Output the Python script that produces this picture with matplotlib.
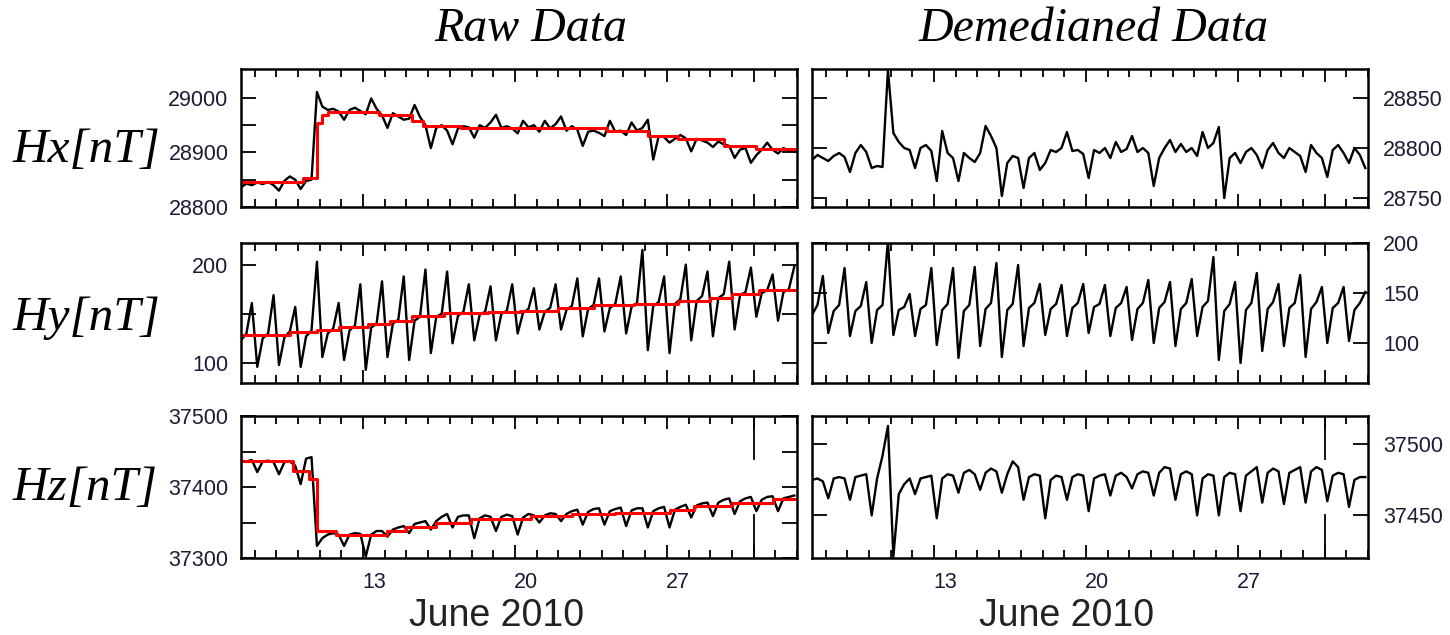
import pandas as pd
import matplotlib.pyplot as plt
import matplotlib.dates as mdates
import matplotlib.ticker as mticker
from matplotlib.transforms import ScaledTranslation

plt.rcParams['font.family'] = ['Liberation Sans', 'DejaVu Sans']

# 6-hourly samples, 7 June 09:00 .. 2 July 21:00
times = pd.date_range('2010-06-07 09:00', periods=103, freq='6h')

# ---- raw data (left column) ----
hx_raw = [28836, 28843, 28840,
          28845, 28842, 28846, 28840,  28830, 28848, 28856, 28850,
          28833, 28848, 28850, 29011,  28984, 28978, 28980, 28975,
          28960, 28978, 28982, 28976,  28970, 28999, 28980, 28968,
          28945, 28972, 28966, 28960,  28962, 28987, 28965, 28950,
          28908, 28945, 28950, 28940,  28915, 28944, 28948, 28946,
          28927, 28950, 28945, 28955,  28969, 28945, 28948, 28944,
          28935, 28958, 28946, 28950,  28938, 28958, 28944, 28952,
          28966, 28940, 28948, 28942,  28912, 28938, 28940, 28936,
          28930, 28958, 28938, 28940,  28932, 28955, 28940, 28945,
          28960, 28887, 28930, 28928,  28918, 28925, 28932, 28926,
          28902, 28925, 28922, 28918,  28910, 28920, 28915, 28912,
          28890, 28905, 28908, 28881,  28895, 28905, 28918, 28905,
          28898, 28908, 28903, 28902]

hy_raw = [123, 130, 161,
          96, 125, 130, 169,   98, 126, 132, 157,
          96, 127, 133, 203,   106, 130, 135, 161,
          103, 133, 138, 180,  93, 136, 140, 183,
          106, 140, 144, 188,  103, 143, 147, 195,
          110, 147, 150, 193,  120, 148, 152, 180,
          123, 149, 152, 178,  123, 150, 153, 180,
          130, 151, 155, 176,  134, 152, 156, 180,
          134, 154, 158, 186,  127, 155, 159, 186,
          132, 156, 160, 188,  130, 157, 161, 215,
          113, 158, 162, 188,  110, 160, 165, 200,
          123, 163, 168, 193,  127, 166, 170, 203,
          134, 169, 172, 197,  147, 171, 174, 190,
          143, 172, 175, 198]

hz_raw = [37437, 37436, 37438,
          37421, 37436, 37437, 37435,  37418, 37435, 37436, 37430,
          37404, 37440, 37442, 37317,  37328, 37333, 37335, 37333,
          37317, 37333, 37335, 37334,  37302, 37333, 37338, 37338,
          37330, 37340, 37343, 37345,  37335, 37348, 37350, 37352,
          37340, 37352, 37358, 37362,  37343, 37358, 37360, 37360,
          37328, 37356, 37360, 37358,  37338, 37358, 37361, 37359,
          37333, 37357, 37362, 37360,  37350, 37360, 37363, 37362,
          37352, 37362, 37366, 37368,  37347, 37365, 37369, 37370,
          37347, 37366, 37369, 37371,  37345, 37367, 37370, 37370,
          37343, 37366, 37370, 37372,  37343, 37368, 37372, 37375,
          37357, 37374, 37377, 37378,  37359, 37378, 37382, 37384,
          37362, 37380, 37384, 37386,  37366, 37382, 37386, 37387,
          37366, 37384, 37386, 37388]

# ---- running medians (red), as step changes ----
hx_med_t = ['2010-06-07 09:00', '2010-06-10 06:00', '2010-06-10 21:00', '2010-06-11 03:00',
            '2010-06-11 09:00', '2010-06-13 18:00', '2010-06-15 06:00', '2010-06-15 18:00',
            '2010-06-17 12:00', '2010-06-24 06:00', '2010-06-26 03:00', '2010-06-27 12:00',
            '2010-06-29 15:00', '2010-07-01 03:00', '2010-07-03 00:00']
hx_med_v = [28845, 28854, 28954, 28968, 28975, 28969, 28957, 28948,
            28945, 28939, 28931, 28924, 28912, 28907, 28907]

hy_med_t = ['2010-06-07 09:00', '2010-06-09 15:00', '2010-06-10 21:00', '2010-06-11 21:00',
            '2010-06-13 06:00', '2010-06-14 06:00', '2010-06-15 06:00', '2010-06-16 18:00',
            '2010-06-18 18:00', '2010-06-20 06:00', '2010-06-22 00:00', '2010-06-23 15:00',
            '2010-06-25 12:00', '2010-06-27 12:00', '2010-06-29 00:00', '2010-06-30 00:00',
            '2010-07-01 06:00', '2010-07-03 00:00']
hy_med_v = [128.5, 131, 134, 137, 140, 143, 148, 151, 151.5, 153, 156, 159,
            160, 162.5, 166, 170, 174, 174]

hz_med_t = ['2010-06-07 09:00', '2010-06-09 18:00', '2010-06-10 12:00', '2010-06-10 21:00',
            '2010-06-11 18:00', '2010-06-14 03:00', '2010-06-15 00:00', '2010-06-16 09:00',
            '2010-06-17 23:00', '2010-06-20 18:00', '2010-06-22 15:00', '2010-06-24 15:00',
            '2010-06-27 03:00', '2010-06-28 06:00', '2010-06-30 00:00', '2010-07-01 21:00',
            '2010-07-03 00:00']
hz_med_v = [37436, 37423, 37411, 37338, 37333, 37338, 37343, 37350, 37355, 37359,
            37362, 37364, 37368, 37373, 37378, 37383, 37383]

# ---- demedianed data (right column) ----
hx_dem = [28788, 28793, 28790,
          28787, 28792, 28795, 28791,  28776, 28795, 28803, 28796,
          28780, 28782, 28781, 28878,  28815, 28806, 28800, 28798,
          28780, 28800, 28803, 28797,  28767, 28817, 28795, 28790,
          28767, 28795, 28790, 28786,  28795, 28822, 28812, 28800,
          28752, 28785, 28792, 28790,  28760, 28790, 28795, 28778,
          28785, 28798, 28796, 28800,  28816, 28797, 28798, 28794,
          28770, 28798, 28795, 28800,  28790, 28806, 28796, 28799,
          28812, 28796, 28800, 28795,  28762, 28790, 28800, 28808,
          28796, 28804, 28796, 28800,  28792, 28816, 28800, 28805,
          28821, 28750, 28790, 28795,  28785, 28796, 28800, 28793,
          28780, 28798, 28805, 28795,  28790, 28800, 28796, 28792,
          28776, 28803, 28795, 28790,  28771, 28798, 28803, 28795,
          28785, 28800, 28793, 28780]

hy_dem = [128, 138, 167,
          110, 132, 138, 175,  107, 132, 137, 161,
          100, 133, 138, 202,  108, 133, 136, 149,
          107, 134, 138, 175,  98, 133, 139, 175,
          85, 132, 138, 176,   97, 134, 140, 180,
          86, 133, 139, 178,   97, 135, 140, 159,
          108, 134, 139, 158,  107, 135, 140, 159,
          110, 136, 139, 158,  107, 135, 140, 156,
          103, 134, 140, 163,  100, 135, 141, 161,
          97, 134, 140, 164,   107, 136, 142, 186,
          83, 132, 139, 161,   80, 133, 140, 170,
          92, 134, 141, 159,   97, 135, 140, 168,
          86, 134, 141, 156,   100, 135, 140, 156,
          102, 133, 140, 151]

hz_dem = [37475, 37476, 37474,
          37462, 37476, 37477, 37476,  37461, 37477, 37478, 37479,
          37450, 37476, 37492, 37513,  37421, 37465, 37472, 37476,
          37465, 37476, 37477, 37478,  37448, 37476, 37479, 37478,
          37466, 37480, 37482, 37479,  37468, 37480, 37483, 37481,
          37466, 37479, 37488, 37484,  37461, 37477, 37479, 37478,
          37448, 37475, 37478, 37477,  37461, 37477, 37479, 37478,
          37453, 37476, 37478, 37479,  37464, 37478, 37480, 37477,
          37469, 37479, 37481, 37480,  37464, 37480, 37484, 37483,
          37461, 37479, 37481, 37479,  37450, 37476, 37479, 37478,
          37450, 37477, 37480, 37479,  37453, 37478, 37481, 37484,
          37459, 37480, 37483, 37481,  37458, 37480, 37482, 37484,
          37459, 37481, 37484, 37482,  37460, 37478, 37480, 37479,
          37456, 37475, 37477, 37477]

row_names = ['Hx[nT]', 'Hy[nT]', 'Hz[nT]']

raw_series = [hx_raw, hy_raw, hz_raw]
med_series = [(hx_med_t, hx_med_v), (hy_med_t, hy_med_v), (hz_med_t, hz_med_v)]
dem_series = [hx_dem, hy_dem, hz_dem]

raw_ylim = [(28800, 29053), (79.6, 222), (37300, 37500)]
raw_yticks = [[28800, 28850, 28900, 28950, 29000],
              [100, 150, 200],
              [37300, 37350, 37400, 37450, 37500]]
raw_ylabels = [['28800', '', '28900', '', '29000'],
               ['100', '', '200'],
               ['37300', '', '37400', '', '37500']]

dem_ylim = [(28741, 28879), (60, 200), (37420, 37520)]
dem_yticks = [[28750, 28800, 28850], [100, 150, 200], [37450, 37500]]

day_ticks = pd.to_datetime(['2010-06-13', '2010-06-20', '2010-06-27', '2010-07-01'])
day_labels = ['13', '20', '27', '']
x_start = pd.Timestamp('2010-06-07 09:00')
x_end = pd.Timestamp('2010-07-03 00:00')
month_edge = pd.Timestamp('2010-07-01')

W, H = 1450, 635
fig = plt.figure(figsize=(W / 100, H / 100), dpi=100)

rows = [(69, 207), (243, 383), (416, 558)]
cols = [(241, 797), (812, 1368)]
tick_col = '#1c1c34'


def make_axes(col, row):
    x0, x1 = cols[col]
    y0, y1 = rows[row]
    return fig.add_axes([x0 / W, 1 - y1 / H, (x1 - x0) / W, (y1 - y0) / H])


def style(ax, last_row, side):
    for s in ax.spines.values():
        s.set_linewidth(1.8)
    ax.set_xlim(x_start, x_end)
    ax.xaxis.set_major_locator(mticker.FixedLocator(mdates.date2num(day_ticks)))
    ax.xaxis.set_major_formatter(mticker.FixedFormatter(day_labels))
    ax.xaxis.set_minor_locator(mdates.DayLocator())
    ax.tick_params(axis='x', which='major', direction='in', length=9.4, width=1.3,
                   top=True, bottom=True, labelsize=15.5, labelcolor=tick_col, pad=10,
                   labelbottom=last_row)
    ax.tick_params(axis='x', which='minor', direction='in', length=5.8, width=1.3,
                   top=True, bottom=True)
    ax.tick_params(axis='y', which='major', direction='in', length=10.8, width=1.3,
                   left=True, right=True, labelsize=15.5, labelcolor=tick_col,
                   labelleft=(side == 'left'), labelright=(side == 'right'),
                   pad=9 if side == 'left' else 11)
    if last_row:
        # day labels sit a little right of their tick in the original
        for lab in ax.get_xticklabels():
            lab.set_transform(lab.get_transform() + ScaledTranslation(0.11, 0, fig.dpi_scale_trans))


line_kw = dict(color='black', lw=1.7, solid_joinstyle='round')

for r in range(3):
    # raw data + running median
    ax = make_axes(0, r)
    ax.plot(times, raw_series[r], **line_kw)
    mt, mv = med_series[r]
    ax.plot(pd.to_datetime(mt), mv, color='#ff0000', lw=2.2, drawstyle='steps-post')
    ax.set_ylim(*raw_ylim[r])
    ax.set_yticks(raw_yticks[r])
    ax.set_yticklabels(raw_ylabels[r])
    style(ax, r == 2, 'left')
    if r == 2:
        ax.axvline(month_edge, ymin=0, ymax=0.3, color='black', lw=1.3)
        ax.axvline(month_edge, ymin=0.7, ymax=1, color='black', lw=1.3)

    # demedianed data
    ax = make_axes(1, r)
    ax.plot(times, dem_series[r], **line_kw)
    ax.set_ylim(*dem_ylim[r])
    ax.set_yticks(dem_yticks[r])
    ax.set_yticklabels([str(v) for v in dem_yticks[r]])
    style(ax, r == 2, 'right')
    if r == 2:
        ax.axvline(month_edge, ymin=0, ymax=0.3, color='black', lw=1.3)
        ax.axvline(month_edge, ymin=0.7, ymax=1, color='black', lw=1.3)

serif = dict(family=['Liberation Serif', 'DejaVu Serif'], style='italic', fontsize=34.5)
fig.text(531 / W, 1 - 29 / H, 'Raw Data', ha='center', va='center', **serif)
fig.text(1094 / W, 1 - 29 / H, 'Demedianed Data', ha='center', va='center', **serif)

for name, base in zip(row_names, [162, 330, 500]):
    fig.text(13 / W, 1 - base / H, name, ha='left', va='baseline',
             **dict(serif, fontsize=35.5))

fig.text(497 / W, 1 - 616 / H, 'June 2010', ha='center', va='center', fontsize=27, color='#222222')
fig.text(1067 / W, 1 - 616 / H, 'June 2010', ha='center', va='center', fontsize=27, color='#222222')

fig.savefig('out.png', dpi=100)
